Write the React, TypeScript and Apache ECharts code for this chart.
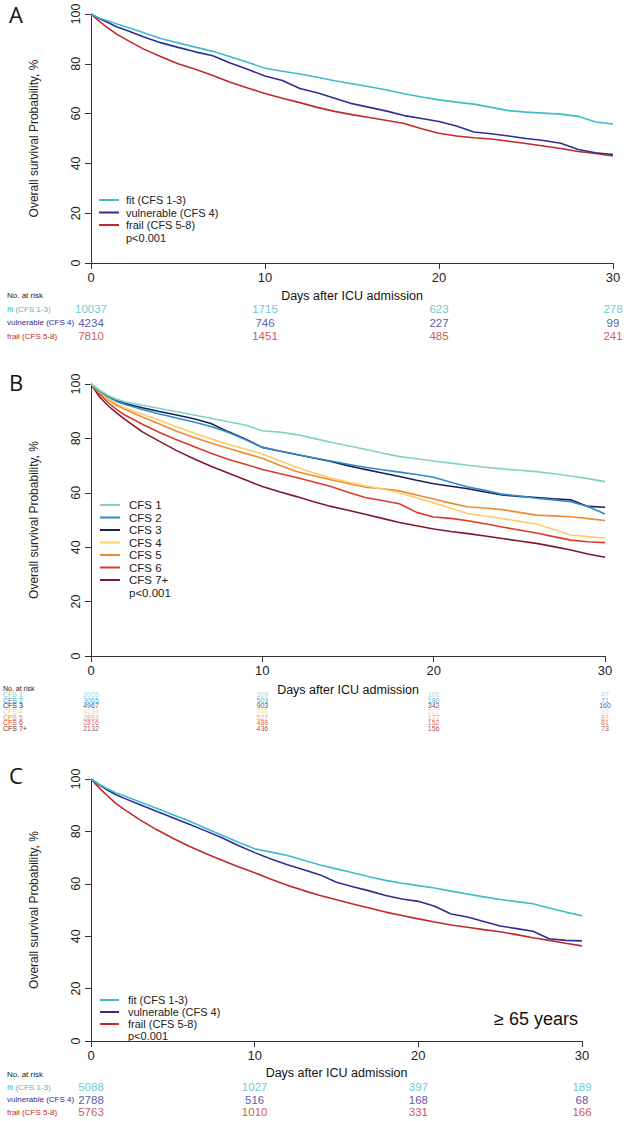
import React, { useEffect, useRef } from "react";
import * as echarts from "echarts";

// ---------- data ----------
const days = [0, 0.5, 1, 1.5, 2, 3, 4, 5, 6, 7, 8, 9, 10, 11, 12, 13, 14, 15, 16, 17, 18, 19, 20, 21, 22, 23, 24, 25, 26, 27, 28, 29, 30];
const riskDays = [0, 10, 20, 30];
const xTicks = [0, 10, 20, 30];
const yTicks = [0, 20, 40, 60, 80, 100];

// Panel A
const aNames = ["fit (CFS 1-3)", "vulnerable (CFS 4)", "frail (CFS 5-8)"];
const aFit = [100, 98.3, 97.2, 96, 94.9, 92.6, 90.2, 88.4, 86.7, 85.0, 82.8, 80.6, 78.2, 77.0, 75.9, 74.6, 73.2, 72.0, 70.8, 69.5, 68.0, 66.7, 65.5, 64.6, 63.8, 62.5, 61.2, 60.6, 60.2, 59.8, 58.9, 56.6, 55.8];
const aVul = [100, 98.1, 96.5, 94.8, 93.6, 90.9, 88.5, 86.6, 84.8, 83.2, 80.3, 77.8, 75.1, 73.3, 70.1, 68.4, 66.2, 64.0, 62.5, 61.0, 59.2, 58.0, 56.8, 55.0, 52.6, 51.9, 51.0, 50.0, 49.2, 48.1, 45.6, 44.3, 43.6];
const aFrail = [100, 96.9, 94.2, 91.8, 89.8, 86.0, 82.9, 80.0, 77.8, 75.3, 72.6, 70.3, 68.1, 66.2, 64.4, 62.5, 60.9, 59.6, 58.4, 57.2, 56.0, 53.9, 52.1, 51.0, 50.3, 49.8, 48.9, 48.0, 47.0, 46.0, 44.8, 44.0, 43.0];
const aRiskFit = [10037, 1715, 623, 278];
const aRiskVul = [4234, 746, 227, 99];
const aRiskFrail = [7810, 1451, 485, 241];

// Panel B
const bNames = ["CFS 1", "CFS 2", "CFS 3", "CFS 4", "CFS 5", "CFS 6", "CFS 7+"];
const bCfs1 = [100, 97.7, 95.8, 94.4, 93.5, 92.2, 91.0, 89.8, 88.6, 87.4, 86.1, 84.9, 82.8, 82.3, 81.4, 80.0, 78.6, 77.3, 76.0, 74.6, 73.3, 72.5, 71.7, 70.9, 70.1, 69.4, 68.8, 68.3, 67.8, 67.0, 66.2, 65.2, 64.1];
const bCfs2 = [100, 97.4, 95.3, 93.6, 92.5, 90.6, 89.0, 87.5, 86.0, 84.4, 82.3, 79.6, 76.7, 75.4, 74.1, 72.9, 71.7, 70.5, 69.4, 68.5, 67.6, 66.7, 65.7, 63.9, 62.1, 60.9, 59.5, 58.8, 58.0, 57.4, 56.7, 55.0, 52.2];
const bCfs3 = [100, 97.5, 95.4, 93.8, 92.8, 91.3, 89.9, 88.6, 87.2, 85.5, 82.5, 79.8, 76.7, 75.4, 74.1, 72.8, 71.5, 70.0, 68.6, 67.3, 66.0, 64.6, 63.3, 62.4, 61.5, 60.3, 59.2, 58.7, 58.3, 57.8, 57.4, 55.0, 54.7];
const bCfs4 = [100, 97.1, 94.7, 92.7, 91.2, 88.9, 86.7, 84.3, 82.0, 79.9, 77.8, 76.1, 74.3, 71.8, 69.4, 67.3, 65.4, 64.0, 62.6, 61.4, 60.0, 58.2, 56.3, 54.3, 52.4, 51.5, 50.5, 49.5, 48.5, 46.5, 44.5, 43.9, 43.3];
const bCfs5 = [100, 96.9, 94.3, 92.2, 90.6, 87.9, 85.3, 82.6, 80.3, 78.3, 76.4, 74.5, 72.7, 70.1, 67.8, 66.3, 64.8, 63.4, 62.1, 61.5, 60.7, 59.2, 57.7, 56.2, 54.8, 54.4, 53.8, 52.8, 51.8, 51.5, 51.2, 50.5, 49.8];
const bCfs6 = [100, 96.3, 93.2, 90.6, 88.5, 85.2, 82.2, 79.5, 77.0, 74.5, 72.3, 70.5, 68.6, 67.1, 65.6, 64.0, 62.3, 60.2, 58.3, 57.2, 56.0, 52.8, 51.1, 50.6, 49.7, 48.6, 47.4, 46.3, 45.2, 43.9, 42.6, 42.0, 41.7];
const bCfs7 = [100, 95.2, 92.0, 89.3, 86.9, 82.4, 78.9, 75.5, 72.5, 69.8, 67.3, 64.8, 62.3, 60.4, 58.6, 56.7, 55.0, 53.6, 52.1, 50.6, 49.1, 47.9, 46.7, 45.8, 45.0, 44.1, 43.2, 42.3, 41.4, 40.2, 39.0, 37.5, 36.3];
const bRisk1 = [2005, 309, 101, 47];
const bRisk2 = [3065, 503, 180, 71];
const bRisk3 = [4967, 903, 342, 160];
const bRisk4 = [4234, 746, 227, 99];
const bRisk5 = [2862, 527, 177, 87];
const bRisk6 = [2816, 488, 152, 81];
const bRisk7 = [2132, 436, 156, 73];

// Panel C (>= 65 years)
const cNames = ["fit (CFS 1-3)", "vulnerable (CFS 4)", "frail (CFS 5-8)"];
const cFit = [100, 98.0, 96.3, 94.8, 93.6, 91.2, 88.8, 86.4, 84.0, 81.2, 78.5, 75.9, 73.4, 72.1, 70.8, 69.0, 67.2, 65.7, 64.2, 62.7, 61.3, 60.2, 59.3, 58.4, 57.2, 56.1, 55.0, 54.0, 53.2, 52.4, 50.8, 49.2, 47.8];
const cVul = [100, 97.8, 95.8, 94.1, 92.7, 90.2, 87.7, 85.2, 82.7, 80.2, 77.6, 74.6, 71.9, 69.5, 67.3, 65.4, 63.4, 60.6, 58.9, 57.3, 55.5, 54.2, 53.3, 51.4, 48.5, 47.3, 45.6, 43.9, 42.9, 41.9, 39.0, 38.4, 38.2];
const cFrail = [100, 96.6, 93.6, 90.8, 88.5, 84.4, 80.7, 77.4, 74.3, 71.6, 69.0, 66.5, 64.2, 61.7, 59.4, 57.4, 55.5, 53.9, 52.3, 50.8, 49.2, 47.9, 46.6, 45.4, 44.3, 43.4, 42.5, 41.7, 40.6, 39.4, 38.4, 37.3, 36.3];
const cRiskFit = [5088, 1027, 397, 189];
const cRiskVul = [2788, 516, 168, 68];
const cRiskFrail = [5763, 1010, 331, 166];

const pText = "p<0.001";
const yTitle = "Overall survival Probability, %";
const xTitle = "Days after ICU admission";
const riskTitle = "No. at risk";
const subgroupText = "≥ 65 years";

// ---------- styles / layout ----------
const FONT = "'Liberation Sans', Arial, Helvetica, sans-serif";
const colA = ["#3dbccb", "#2d2e94", "#c0292d"];
const colB = ["#82d2be", "#2c8cc6", "#1b1f5c", "#f8cf6c", "#ee8a32", "#dc3a2b", "#7e1b2a"];

const panels = [
  {
    letter: "A", letterPos: [9, 3],
    grid: { left: 91, top: 14, width: 522, height: 249 },
    risk: { top: 302.25, height: 40.5 },
    names: aNames, colors: colA, curves: [aFit, aVul, aFrail], riskRows: [aRiskFit, aRiskVul, aRiskFrail],
    legend: { x0: 99, x1: 119, tx: 126, y0: 200, dy: 12.5, font: 11 },
    xNameGap: 26, riskFont: 11.5, riskLabelFont: 8, riskLabelMargin: 84, riskTitleY: 295, riskTitleX: 7, riskTitleFont: 8,
  },
  {
    letter: "B", letterPos: [9, 371],
    grid: { left: 91, top: 384, width: 514, height: 272 },
    risk: { top: 691.8, height: 39.2 },
    names: bNames, colors: colB, curves: [bCfs1, bCfs2, bCfs3, bCfs4, bCfs5, bCfs6, bCfs7],
    riskRows: [bRisk1, bRisk2, bRisk3, bRisk4, bRisk5, bRisk6, bRisk7],
    legend: { x0: 100, x1: 120, tx: 129, y0: 505, dy: 12.5, font: 11.5 },
    xNameGap: 27, riskFont: 7, riskLabelFont: 7, riskLabelMargin: 88, riskTitleY: 688.5, riskTitleX: 3, riskTitleFont: 7,
  },
  {
    letter: "C", letterPos: [9, 764],
    grid: { left: 91, top: 779, width: 491, height: 262 },
    risk: { top: 1080.75, height: 37.5 },
    names: cNames, colors: colA, curves: [cFit, cVul, cFrail], riskRows: [cRiskFit, cRiskVul, cRiskFrail],
    legend: { x0: 100, x1: 119, tx: 128, y0: 1000, dy: 12, font: 11 },
    xNameGap: 25, riskFont: 11.5, riskLabelFont: 8, riskLabelMargin: 84, riskTitleY: 1074, riskTitleX: 7, riskTitleFont: 8,
  },
];

function buildOption() {
  const grid: any[] = [];
  const xAxis: any[] = [];
  const yAxis: any[] = [];
  const series: any[] = [];
  const graphic: any[] = [];

  panels.forEach((p, i) => {
    const gMain = i * 2;
    const gRisk = i * 2 + 1;
    grid.push({ ...p.grid, containLabel: false });
    grid.push({ left: p.grid.left, width: p.grid.width, top: p.risk.top, height: p.risk.height, containLabel: false });

    xAxis.push({
      gridIndex: gMain, type: "value", min: xTicks[0], max: xTicks[xTicks.length - 1], interval: 10,
      name: xTitle, nameLocation: "middle", nameGap: p.xNameGap,
      nameTextStyle: { fontSize: 12.5, color: "#111", fontFamily: FONT },
      axisLine: { show: true, onZero: false, lineStyle: { color: "#333", width: 1 } },
      axisTick: { show: true, length: 6, lineStyle: { color: "#333" } },
      axisLabel: { fontSize: 13, color: "#222", margin: 8, fontFamily: FONT },
      splitLine: { show: false },
    });
    xAxis.push({ gridIndex: gRisk, type: "value", min: 0, max: 30, show: false });

    yAxis.push({
      gridIndex: gMain, type: "value", min: yTicks[0], max: yTicks[yTicks.length - 1], interval: 20,
      name: yTitle, nameLocation: "middle", nameGap: 51,
      nameTextStyle: { fontSize: 12, color: "#222", fontFamily: FONT },
      axisLine: { show: true, onZero: false, lineStyle: { color: "#333", width: 1 } },
      axisTick: { show: true, length: 6, lineStyle: { color: "#333" } },
      axisLabel: { fontSize: 12.5, color: "#222", margin: 9, rotate: 90, fontFamily: FONT },
      splitLine: { show: false },
    });
    yAxis.push({
      gridIndex: gRisk, type: "category", inverse: true, data: p.names,
      axisLine: { show: false }, axisTick: { show: false }, splitLine: { show: false },
      axisLabel: {
        show: true, interval: 0, hideOverlap: false, align: "left", margin: p.riskLabelMargin,
        fontSize: p.riskLabelFont, fontFamily: FONT,
        color: (_v: any, idx: number) => p.colors[idx],
      },
    });

    p.curves.forEach((vals, k) => {
      series.push({
        type: "line", name: p.names[k], xAxisIndex: gMain, yAxisIndex: gMain,
        data: days.map((d, j) => [d, vals[j]]),
        showSymbol: false, symbol: "none", silent: true,
        lineStyle: { color: p.colors[k], width: 1.6 },
        itemStyle: { color: p.colors[k] },
        z: 10 - k,
      });
    });

    p.riskRows.forEach((row, k) => {
      series.push({
        type: "scatter", xAxisIndex: gRisk, yAxisIndex: gRisk, silent: true,
        data: riskDays.map((d, j) => [d, k, row[j]]),
        symbolSize: 1, itemStyle: { color: "rgba(0,0,0,0)" },
        label: {
          show: true, position: "inside", formatter: (prm: any) => String(prm.value[2]),
          color: p.colors[k], fontSize: p.riskFont, fontFamily: FONT,
        },
        labelLayout: { hideOverlap: false },
      });
    });

    graphic.push({
      type: "text", x: p.letterPos[0], y: p.letterPos[1],
      style: { text: p.letter, fontSize: 22, fontFamily: "'Open Sans', 'Liberation Sans', sans-serif", fill: "#111" },
    });
    p.names.forEach((nm, k) => {
      const y = p.legend.y0 + k * p.legend.dy;
      graphic.push({ type: "line", shape: { x1: p.legend.x0, y1: y, x2: p.legend.x1, y2: y }, style: { stroke: p.colors[k], lineWidth: 2 } });
      graphic.push({ type: "text", x: p.legend.tx, y, style: { text: nm, fontSize: p.legend.font, fontFamily: FONT, fill: "#222", textVerticalAlign: "middle" } });
    });
    graphic.push({
      type: "text", x: p.legend.tx, y: p.legend.y0 + p.names.length * p.legend.dy,
      style: { text: pText, fontSize: p.legend.font, fontFamily: FONT, fill: "#222", textVerticalAlign: "middle" },
    });
    graphic.push({
      type: "text", x: p.riskTitleX, y: p.riskTitleY,
      style: { text: riskTitle, fontSize: p.riskTitleFont, fontFamily: FONT, fill: "#222", textVerticalAlign: "middle" },
    });
  });

  graphic.push({
    type: "text", x: 578, y: 1019,
    style: { text: subgroupText, fontSize: 18, fontFamily: FONT, fill: "#111", textAlign: "right", textVerticalAlign: "middle" },
  });

  return { animation: false, backgroundColor: "#fff", grid, xAxis, yAxis, series, graphic };
}

export default function App() {
  const ref = useRef<HTMLDivElement>(null);
  useEffect(() => {
    const chart = echarts.init(ref.current!, null, { renderer: "svg" });
    chart.setOption(buildOption() as any);
    return () => chart.dispose();
  }, []);
  return (
    <div
      ref={ref}
      style={{ position: "absolute", left: 0, top: 0, width: 626, height: 1121, background: "#fff" }}
    />
  );
}
